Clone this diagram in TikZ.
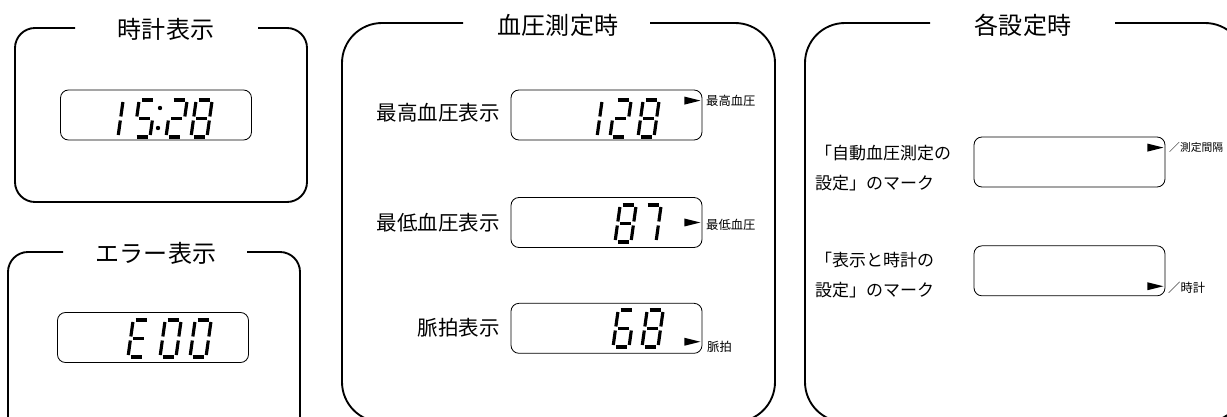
\documentclass[tikz,border=0pt]{standalone}
\usepackage{fontspec}
\setmainfont{Noto Sans CJK JP}
\usetikzlibrary{positioning}

% segments of one LCD digit (origin bottom left)
\def\lcdsega{(2.5,-37)--(13.5,-37)}
\def\lcdsegb{(16,-35)--(16,-20.5)}
\def\lcdsegc{(16,-16.5)--(16,-2)}
\def\lcdsegd{(2.5,0)--(13.5,0)}
\def\lcdsege{(0,-2)--(0,-16.5)}
\def\lcdsegf{(0,-20.5)--(0,-35)}
\def\lcdsegg{(2.5,-18.5)--(13.5,-18.5)}

\begin{document}
\begin{tikzpicture}[
x=0.03cm, y=-0.03cm,
panel/.style={line width=1.6pt, rounded corners=0.6cm},
bigpanel/.style={panel, rounded corners=1.2cm},
lcd/.style={
draw,
line width=0.7pt,
rounded corners=0.24cm,
minimum width=5.73cm,
minimum height=1.5cm,
inner sep=0pt
},
title/.style={font=\fontsize{20.5}{24}\selectfont, inner sep=0pt},
lbl/.style={font=\fontsize{17.5}{21}\selectfont, inner sep=0pt, anchor=east},
note/.style={font=\fontsize{14.5}{25}\selectfont, inner sep=0pt, anchor=west, align=left},
tag/.style={font=\fontsize{10.5}{12}\selectfont, inner sep=0pt, anchor=west},
seg/.style={line width=2.7pt},
digit/.pic={\foreach \s in {#1} \draw[seg] \csname lcdseg\s\endcsname;},
lcdslant/.style={xslant=0.14}
]
\useasboundingbox (0,0) rectangle (1227,416);
\clip (0,0) rectangle (1227,416);

% clock
\draw[panel] (75,28) -- (15,28) -- (15,202) -- (307,202) -- (307,28) -- (258,28);
\node[title] (clktitle) at (166,29) {時計表示};
\node[lcd] (clk) at (156,115) {};
\pic[lcdslant] at (102,137) {digit={b,c}};
\pic[lcdslant] at (134,137) {digit={a,f,g,c,d}};
\fill (160,108) circle (2.2) (158,128) circle (2.2);
\pic[lcdslant] at (166,137) {digit={a,b,g,e,d}};
\pic[lcdslant] at (191,137) {digit={a,b,c,d,e,f,g}};

% error
\draw[panel] (63,252) -- (8,252) -- (8,440) -- (300,440) -- (300,252) -- (247,252);
\node[title] (errtitle) at (156,253) {エラー表示};
\node[lcd] (err) at (153,337.5) {};
\pic[lcdslant] at (128,357) {digit={a,f,g,e,d}};
\pic[lcdslant] at (160,357) {digit={a,b,c,d,e,f}};
\pic[lcdslant] at (190,357) {digit={a,b,c,d,e,f}};

% blood pressure
\draw[bigpanel] (463,23) -- (342,23) -- (342,422) -- (775,422) -- (775,23) -- (650,23);
\node[title] (bptitle) at (558,25) {血圧測定時};

\node[lcd] (bp1) at (606.5,115) {};
\node[lcd, below=1.7cm of bp1] (bp2) {};
\node[lcd, below=1.65cm of bp2] (bp3) {};

\node[lbl] (sys) at (500,113) {最高血圧表示};
\node[lbl] (dia) at (500,223) {最低血圧表示};
\node[lbl] (pul) at (500,328) {脈拍表示};

\pic[lcdslant] at (581,137) {digit={b,c}};
\pic[lcdslant] at (610,137) {digit={a,b,g,e,d}};
\pic[lcdslant] at (638,137) {digit={a,b,c,d,e,f,g}};

\pic[lcdslant] at (615,242) {digit={a,b,c,d,e,f,g}};
\pic[lcdslant] at (640,242) {digit={a,b,c}};

\pic[lcdslant] at (613,347) {digit={a,f,g,e,d,c}};
\pic[lcdslant] at (642,347) {digit={a,b,c,d,e,f,g}};

\fill (bp1.north east) ++(-2,11) -- ++(-16,-4) -- ++(0,8) -- cycle;
\fill (bp2.east) ++(-2,0) -- ++(-16,-4) -- ++(0,8) -- cycle;
\fill (bp3.south east) ++(-2,-12) -- ++(-16,-4) -- ++(0,8) -- cycle;

\node[tag] (systag) at (706,101) {最高血圧};
\node[tag] (diatag) at (706,225) {最低血圧};
\node[tag] (pultag) at (707,347) {脈拍};

% settings
\draw[bigpanel] (930,23) -- (805,23) -- (805,422) -- (1245,422) -- (1245,23) -- (1115,23);
\node[title] (settitle) at (1023,25) {各設定時};

\node[lcd] (auto) at (1069.5,162) {};
\node[lcd, below=1.74cm of auto] (clkset) {};

\node[note] (autonote) at (815,168) {「自動血圧測定の\\設定」のマーク};
\node[note] (clknote) at (815,275) {「表示と時計の\\設定」のマーク};

\fill (auto.north east) ++(-2,11) -- ++(-16,-4) -- ++(0,8) -- cycle;
\fill (clkset.south east) ++(-2,-10) -- ++(-16,-4) -- ++(0,8) -- cycle;

\node[tag, font=\fontsize{9.2}{11}\selectfont] (autotag) at (1169,147) {／測定間隔};
\node[tag] (clktag) at (1168,288) {／時計};

\end{tikzpicture}
\end{document}
